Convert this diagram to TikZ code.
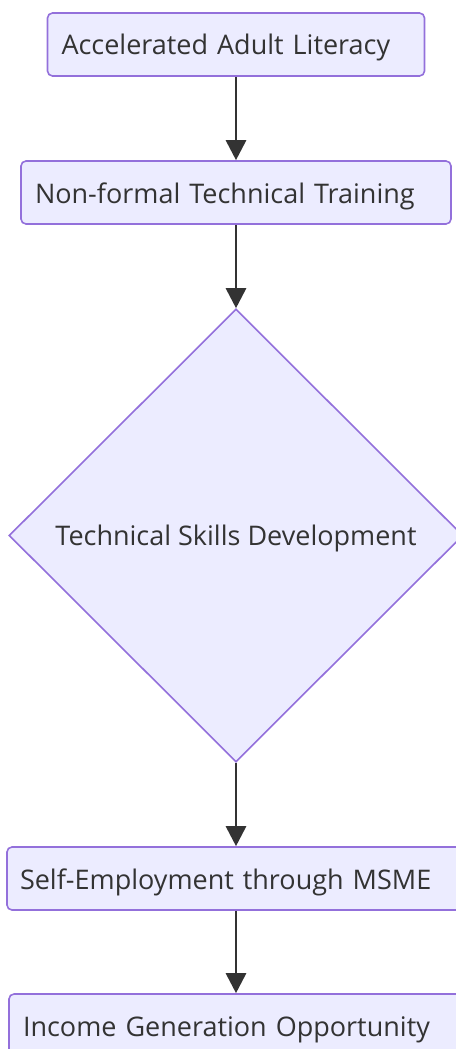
\documentclass[tikz,border=0pt]{standalone}
\usepackage{fontspec}
\setmainfont{Open Sans}
\usetikzlibrary{shapes.geometric,arrows.meta}
\definecolor{nodefill}{HTML}{ECECFF}
\definecolor{nodeline}{HTML}{9370DB}
\definecolor{txt}{HTML}{333333}
\begin{document}
\begin{tikzpicture}[x=0.75pt,y=-0.75pt,
  box/.style={draw=nodeline,fill=nodefill,line width=1.2pt,rounded corners=3.75pt,
    minimum height=47.25pt,inner xsep=10.5pt,inner ysep=0pt,align=left,
    text height=18pt,text depth=2.25pt,
    text=txt,font=\fontsize{20.25pt}{24pt}\selectfont},
  dia/.style={diamond,draw=nodeline,fill=nodefill,line width=1.2pt,inner sep=0pt,
    minimum width=340.5pt,minimum height=339.75pt,
    text height=18pt,text depth=3.75pt,
    text=txt,font=\fontsize{20.25pt}{24pt}\selectfont},
  arr/.style={draw=txt,line width=2.1pt,-{Triangle[width=15pt,length=15pt]}}]
\useasboundingbox (0,0) rectangle (456,1049);
\clip (0,0) rectangle (456,1049);
\node[box,text width=261.75pt] (a) at (236,44.5) {\mbox{Accelerated Adult Literacy}};
\node[box,text width=301.5pt] (b) at (236,192.5) {\mbox{Non-formal Technical Training}};
\node[dia] (c) at (236,535.5) {Technical Skills Development};
\node[box,text width=324pt,inner xsep=9.75pt] (d) at (236,878.5) {\mbox{Self-Employment through MSME}};
\node[box,text width=319.5pt] (e) at (236,1025.5) {\mbox{Income Generation Opportunity}};
\draw[arr] (a.south) -- (b.north);
\draw[arr] (b.south) -- (c.north);
\draw[arr] (c.south) -- (d.north);
\draw[arr] (d.south) -- (e.north);
\end{tikzpicture}
\end{document}
